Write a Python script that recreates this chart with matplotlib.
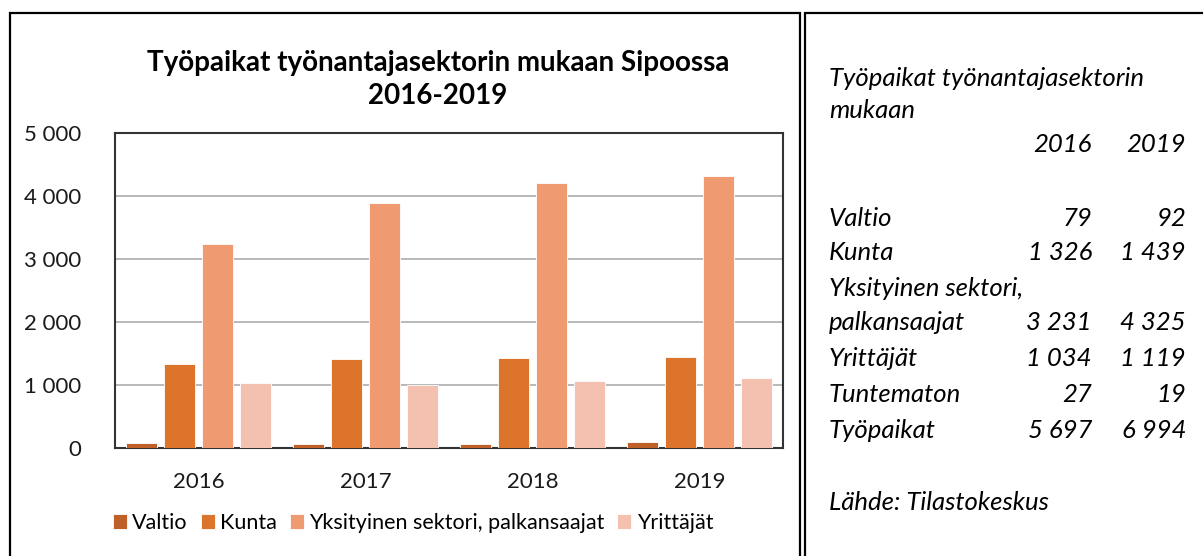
import matplotlib.pyplot as plt
import matplotlib.patches as mpatches
import numpy as np
from matplotlib.ticker import FuncFormatter

plt.rcParams['font.family'] = ['Lato', 'DejaVu Sans']

# Chart data
years = ['2016', '2017', '2018', '2019']
series_names = ['Valtio', 'Kunta', 'Yksityinen sektori, palkansaajat', 'Yrittäjät']
valtio = [79, 60, 60, 92]
kunta = [1326, 1417, 1428, 1439]
yksityinen = [3231, 3890, 4200, 4325]
yrittajat = [1034, 998, 1058, 1119]
colors = ['#BF6028', '#DD742C', '#F09A71', '#F4C1B0']

# Side table data
table_labels = ['Valtio', 'Kunta', 'Yksityinen sektori,\npalkansaajat',
                'Yrittäjät', 'Tuntematon', 'Työpaikat']
table_2016 = [79, 1326, 3231, 1034, 27, 5697]
table_2019 = [92, 1439, 4325, 1119, 19, 6994]

W, H = 1203, 556


def fx(x):
    return x / W


def fy(y):
    return 1 - y / H


def fmt(v):
    return f"{v:,.0f}".replace(",", " ")


fig = plt.figure(figsize=(W / 100, H / 100), dpi=100)

# frames
fig.patches.append(mpatches.Rectangle((fx(10), fy(600)), fx(800) - fx(10), fy(13) - fy(600),
                                      transform=fig.transFigure, fill=False, ec='black', lw=1.6))
fig.patches.append(mpatches.Rectangle((fx(805), fy(600)), fx(1250) - fx(805), fy(13) - fy(600),
                                      transform=fig.transFigure, fill=False, ec='black', lw=1.6))

ax = fig.add_axes([fx(115), fy(448), fx(783) - fx(115), fy(133) - fy(448)])
x = np.arange(len(years))
step = 0.2275
width = 0.18
for i, (vals, name, c) in enumerate(zip([valtio, kunta, yksityinen, yrittajat], series_names, colors)):
    ax.bar(x + (i - 1.5) * step, vals, width, color=c, label=name,
           edgecolor='white', linewidth=0.6, zorder=3)

ax.set_xlim(-0.5, 3.5)
ax.set_ylim(0, 5000)
ax.set_yticks(range(0, 5001, 1000))
ax.yaxis.set_major_formatter(FuncFormatter(lambda v, p: fmt(v)))
ax.set_xticks(x)
ax.set_xticklabels(years)
ax.tick_params(axis='both', length=0, labelsize=16, colors='#1a1a1a')
ax.tick_params(axis='y', pad=24)
ax.tick_params(axis='x', pad=17)
ax.grid(axis='y', color='#A6A6A6', lw=1.1, zorder=0)
for s in ax.spines.values():
    s.set_color('#333333')
    s.set_linewidth(1.5)

fig.text(fx(438), fy(63), 'Työpaikat työnantajasektorin mukaan Sipoossa',
         ha='center', va='center', fontsize=20, fontweight='bold')
fig.text(fx(438), fy(96), '2016-2019',
         ha='center', va='center', fontsize=20, fontweight='bold')

fig.legend(loc='center', bbox_to_anchor=(fx(413), fy(523)), ncol=4, frameon=False,
           fontsize=15.5, handlelength=0.65, handleheight=0.65, handletextpad=0.25,
           columnspacing=0.6, borderaxespad=0)

# side table
tsize = 18.5
fig.text(fx(829), fy(78), 'Työpaikat työnantajasektorin', ha='left', va='center',
         fontsize=tsize, style='italic')
fig.text(fx(829), fy(111), 'mukaan', ha='left', va='center', fontsize=tsize, style='italic')
fig.text(fx(1092), fy(145), '2016', ha='right', va='center', fontsize=tsize, style='italic')
fig.text(fx(1186), fy(145), '2019', ha='right', va='center', fontsize=tsize, style='italic')

row_y = [219, 252, 323, 358, 394, 430]
for lab, v1, v2, yy in zip(table_labels, table_2016, table_2019, row_y):
    if '\n' in lab:
        a, b = lab.split('\n')
        fig.text(fx(829), fy(yy - 35), a, ha='left', va='center', fontsize=tsize, style='italic')
        fig.text(fx(829), fy(yy), b, ha='left', va='center', fontsize=tsize, style='italic')
    else:
        fig.text(fx(829), fy(yy), lab, ha='left', va='center', fontsize=tsize, style='italic')
    fig.text(fx(1092), fy(yy), fmt(v1), ha='right', va='center', fontsize=tsize, style='italic')
    fig.text(fx(1186), fy(yy), fmt(v2), ha='right', va='center', fontsize=tsize, style='italic')

fig.text(fx(829), fy(502), 'Lähde: Tilastokeskus', ha='left', va='center',
         fontsize=tsize, style='italic')

fig.savefig('out.png', dpi=100)
